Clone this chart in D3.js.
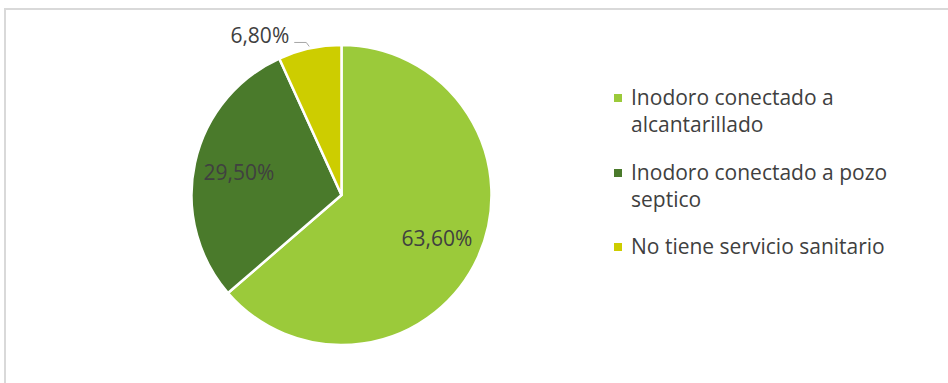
<!DOCTYPE html>
<html>
<head>
<meta charset="utf-8">
<script src="https://cdn.jsdelivr.net/npm/d3@7"></script>
<style>
  body { margin: 0; background: #fff; }
  svg { display: block; font-family: "Open Sans", sans-serif; }
</style>
</head>
<body>
<div id="chart-area"></div>
<script>
// data
const categories = ["Inodoro conectado a alcantarillado", "Inodoro conectado a pozo septico", "No tiene servicio sanitario"];
const values = [63.6, 29.5, 6.8];
const valueLabels = ["63,60%", "29,50%", "6,80%"];
const legendLines = [["Inodoro conectado a", "alcantarillado"], ["Inodoro conectado a pozo", "septico"], ["No tiene servicio sanitario"]];
const colors = ["#9BCA3A", "#4A7A2B", "#CDCD00"];

const width = 948, height = 383;
const cx = 341.5, cy = 195, radius = 150;
const fontSize = "21px";

const svg = d3.select("#chart-area")
    .append("svg")
        .attr("width", width)
        .attr("height", height);

// chart frame (cut off on right and bottom)
svg.append("path")
    .attr("d", "M5,400 L5,9 L960,9")
    .attr("fill", "none")
    .attr("stroke", "#d9d9d9")
    .attr("stroke-width", 2);

const data = categories.map((c, i) => ({name: c, value: values[i], label: valueLabels[i], color: colors[i]}));

const pie = d3.pie().sort(null).value(d => d.value);
const arc = d3.arc().innerRadius(0).outerRadius(radius);
const labelArc = d3.arc().innerRadius(radius * 0.7).outerRadius(radius * 0.7);
const edgeArc = d3.arc().innerRadius(radius + 2).outerRadius(radius + 2);

const g = svg.append("g").attr("transform", "translate(" + cx + "," + cy + ")");
const arcs = pie(data);

g.selectAll("path.slice")
    .data(arcs)
    .enter().append("path")
        .attr("class", "slice")
        .attr("d", arc)
        .attr("fill", d => d.data.color)
        .attr("stroke", "#fff")
        .attr("stroke-width", 2.5)
        .attr("stroke-linejoin", "round");

// inside labels for the two big slices
g.selectAll("text.inlabel")
    .data(arcs.slice(0, 2))
    .enter().append("text")
        .attr("class", "inlabel")
        .attr("x", d => labelArc.centroid(d)[0])
        .attr("y", d => labelArc.centroid(d)[1])
        .attr("dy", "0.35em")
        .attr("text-anchor", "middle")
        .attr("font-size", fontSize)
        .attr("fill", "#404040")
        .text(d => d.data.label);

// small slice: label outside with leader line
const small = arcs[2];
const edge = edgeArc.centroid(small);
const elbow = [edge[0] - 3, edge[1] - 4];
const end = [elbow[0] - 12, elbow[1]];
g.append("polyline")
    .attr("points", [edge, elbow, end].map(p => p.join(",")).join(" "))
    .attr("fill", "none")
    .attr("stroke", "#a6a6a6")
    .attr("stroke-width", 1);
g.append("text")
    .attr("x", end[0] - 5)
    .attr("y", end[1] + 1)
    .attr("text-anchor", "end")
    .attr("font-size", fontSize)
    .attr("fill", "#404040")
    .text(small.data.label);

// legend
const legend = svg.append("g").attr("transform", "translate(614,0)");
const legendY = [98, 173, 247];
const lineH = 27;
data.forEach((d, i) => {
    const row = legend.append("g").attr("transform", "translate(0," + legendY[i] + ")");
    row.append("rect")
        .attr("x", 0)
        .attr("y", -4)
        .attr("width", 8)
        .attr("height", 8)
        .attr("fill", d.color);
    legendLines[i].forEach((line, j) => {
        row.append("text")
            .attr("x", 17)
            .attr("y", j * lineH)
            .attr("dy", "0.35em")
            .attr("font-size", fontSize)
            .attr("fill", "#404040")
            .text(line);
    });
});
</script>
</body>
</html>
